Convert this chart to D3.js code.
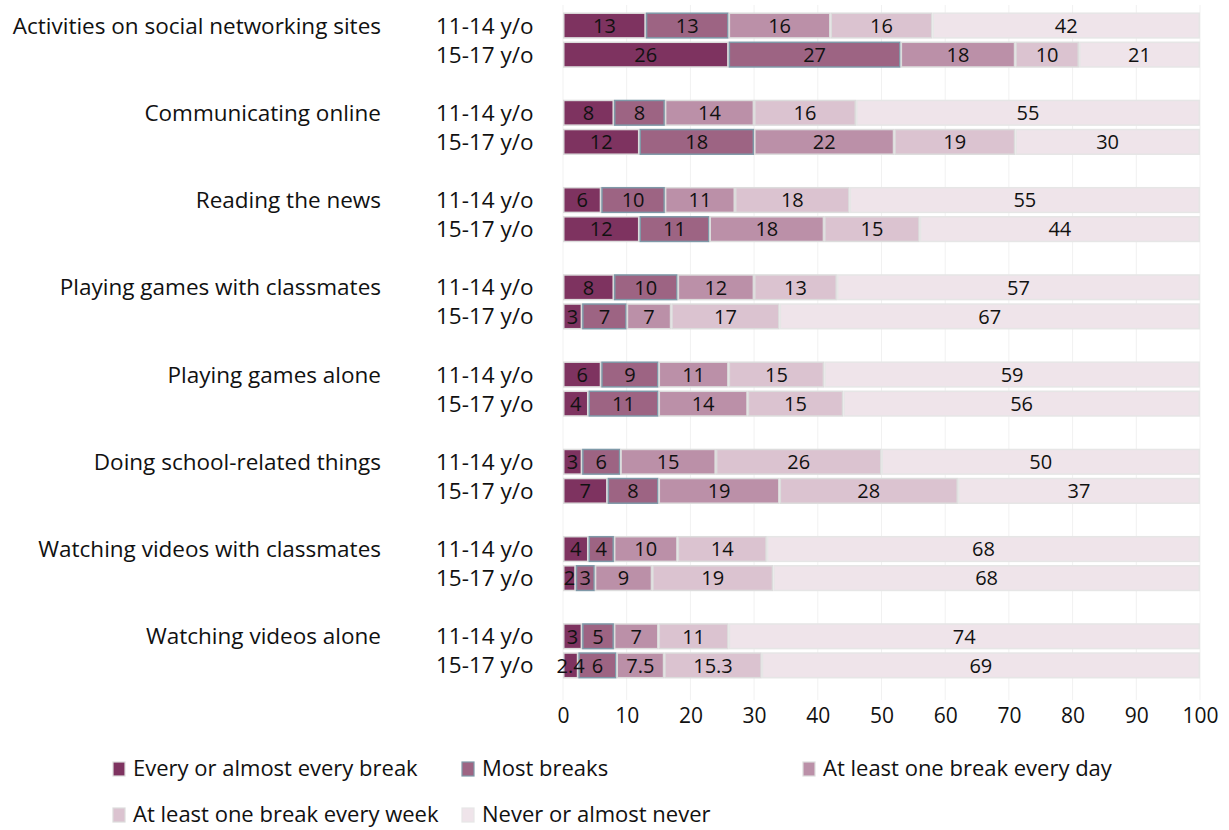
<!DOCTYPE html>
<html>
<head>
<meta charset="utf-8">
<script src="https://cdn.jsdelivr.net/npm/d3@7"></script>
<style>
  html, body { margin: 0; padding: 0; background: #fff; }
  svg { display: block; font-family: "Open Sans", "Noto Sans", sans-serif; }
</style>
</head>
<body>
<svg id="chart" width="1229" height="830"></svg>
<script>
const categories = [
  "Activities on social networking sites",
  "Communicating online",
  "Reading the news",
  "Playing games with classmates",
  "Playing games alone",
  "Doing school-related things",
  "Watching videos with classmates",
  "Watching videos alone"
];
const ages = ["11-14 y/o", "15-17 y/o"];
const seriesNames = [
  "Every or almost every break",
  "Most breaks",
  "At least one break every day",
  "At least one break every week",
  "Never or almost never"
];
// values ordered: category x age (11-14, 15-17)
const everyBreak = [13, 26, 8, 12, 6, 12, 8, 3, 6, 4, 3, 7, 4, 2, 3, 2.4];
const mostBreaks = [13, 27, 8, 18, 10, 11, 10, 7, 9, 11, 6, 8, 4, 3, 5, 6];
const everyDay   = [16, 18, 14, 22, 11, 18, 12, 7, 11, 14, 15, 19, 10, 9, 7, 7.5];
const everyWeek  = [16, 10, 16, 19, 18, 15, 13, 17, 15, 15, 26, 28, 14, 19, 11, 15.3];
const never      = [42, 21, 55, 30, 55, 44, 57, 67, 59, 56, 50, 37, 68, 68, 74, 69];
const xTicks = [0, 10, 20, 30, 40, 50, 60, 70, 80, 90, 100];

const seriesValues = [everyBreak, mostBreaks, everyDay, everyWeek, never];
const colors = ["#7e3360", "#9d6483", "#bb90a8", "#dbc3d0", "#efe4ea"];
const strokes = ["#dcdcdc", "#7f99a8", "#dcdcdc", "#dcdcdc", "#e6e6e6"];

const LABEL_FS = 22.5;
const NUM_FS = 20;

const svg = d3.select("#chart");

// rows: per category two bars plus a gap slot
const rowKeys = [];
categories.forEach((c, ci) => {
  ages.forEach((a, ai) => rowKeys.push(ci + "|" + ai));
  rowKeys.push(ci + "|gap");
});

const x = d3.scaleLinear().domain([0, 100]).range([563, 1200]);
const y = d3.scaleBand().domain(rowKeys).range([11, 709]).paddingInner(0.1).paddingOuter(0.05);

// gridlines
svg.append("g")
  .selectAll("line")
  .data(xTicks)
  .join("line")
  .attr("x1", d => x(d)).attr("x2", d => x(d))
  .attr("y1", 5).attr("y2", 700)
  .attr("stroke", "#f1f1f1").attr("stroke-width", 1);

// build rows data (last segment is the remainder and runs to the end of the scale)
const rows = [];
categories.forEach((c, ci) => {
  ages.forEach((a, ai) => {
    const idx = ci * 2 + ai;
    let cum = 0;
    const segs = seriesValues.map((arr, si) => {
      const v = arr[idx];
      const end = si === seriesValues.length - 1 ? 100 : Math.min(100, cum + v);
      const s = { si, v, x0: cum, x1: end };
      cum += v;
      return s;
    });
    rows.push({ key: ci + "|" + ai, ci, ai, segs });
  });
});

const barsG = svg.append("g");
const rowG = barsG.selectAll("g.row").data(rows).join("g").attr("class", "row")
  .attr("transform", d => `translate(0,${y(d.key)})`);

const bh = y.bandwidth();
rowG.selectAll("rect")
  .data(d => d.segs)
  .join("rect")
  .attr("x", s => x(s.x0) + 0.75)
  .attr("y", 0.75)
  .attr("width", s => Math.max(0, x(s.x1) - x(s.x0) - 1.5))
  .attr("height", bh - 1.5)
  .attr("fill", s => colors[s.si])
  .attr("stroke", s => strokes[s.si])
  .attr("stroke-width", 1.5);

rowG.selectAll("text")
  .data(d => d.segs)
  .join("text")
  .attr("x", s => x((s.x0 + s.x1) / 2))
  .attr("y", bh / 2)
  .attr("dy", "0.36em")
  .attr("text-anchor", "middle")
  .attr("font-size", NUM_FS)
  .attr("fill", "#111")
  .text(s => s.v);

// age labels
svg.append("g").selectAll("text")
  .data(rows)
  .join("text")
  .attr("x", 436)
  .attr("y", d => y(d.key) + bh / 2)
  .attr("dy", "0.36em")
  .attr("font-size", LABEL_FS)
  .attr("fill", "#111")
  .text(d => ages[d.ai]);

// category labels
svg.append("g").selectAll("text")
  .data(categories)
  .join("text")
  .attr("x", 381)
  .attr("y", (d, i) => y(i + "|0") + bh / 2)
  .attr("dy", "0.36em")
  .attr("text-anchor", "end")
  .attr("font-size", LABEL_FS)
  .attr("fill", "#111")
  .text(d => d);

// x axis
const xAxis = d3.axisBottom(x).tickValues(xTicks).tickSize(0).tickPadding(0).tickFormat(d3.format("d"));
const axG = svg.append("g").attr("transform", "translate(0,707)").call(xAxis);
axG.select(".domain").remove();
axG.selectAll("text").attr("font-size", 21).attr("fill", "#111")
  .attr("font-family", "\"Open Sans\", \"Noto Sans\", sans-serif").attr("dy", "0.75em");

// legend
const legendPos = [
  { x: 113, y: 769 }, { x: 462, y: 769 }, { x: 803, y: 769 },
  { x: 113, y: 815 }, { x: 462, y: 815 }
];
const lg = svg.append("g").selectAll("g")
  .data(seriesNames)
  .join("g")
  .attr("transform", (d, i) => `translate(${legendPos[i].x},${legendPos[i].y})`);
lg.append("rect")
  .attr("x", 0).attr("y", -7).attr("width", 12).attr("height", 14)
  .attr("fill", (d, i) => colors[i])
  .attr("stroke", (d, i) => strokes[i]).attr("stroke-width", 1.2);
lg.append("text")
  .attr("x", 20).attr("y", 0).attr("dy", "0.33em")
  .attr("font-size", 22).attr("fill", "#111")
  .text(d => d);
</script>
</body>
</html>
